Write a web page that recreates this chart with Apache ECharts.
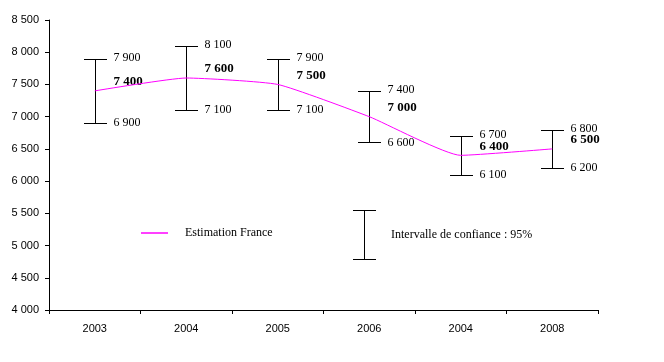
<!DOCTYPE html>
<html><head><meta charset="utf-8">
<script src="https://cdn.jsdelivr.net/npm/echarts@6/dist/echarts.min.js"></script>
<style>html,body{margin:0;padding:0;background:#fff}#c{width:664px;height:362px}</style>
</head><body><div id="c"></div>
<script>
const categories = ['2003', '2004', '2005', '2006', '2004', '2008'];
const estimation = [7400, 7600, 7500, 7000, 6400, 6500];
const upperBound = [7900, 8100, 7900, 7400, 6700, 6800];
const lowerBound = [6900, 7100, 7100, 6600, 6100, 6200];
const yMin = 4000, yMax = 8500, yStep = 500;

function fmt(v) { return String(v).replace(/\B(?=(\d{3})+(?!\d))/g, ' '); }
const serif = '"Liberation Serif","Times New Roman",serif';
const sans = '"Liberation Sans",Arial,sans-serif';
const chart = echarts.init(document.getElementById('c'));
chart.setOption({
  animation: false,
  grid: { left: 49, right: 66, top: 20, bottom: 52 },
  xAxis: {
    type: 'category', data: categories, boundaryGap: true,
    axisLine: { lineStyle: { color: '#000', width: 1 } },
    axisTick: { show: true, length: 4, lineStyle: { color: '#000' } },
    axisLabel: { color: '#000', fontFamily: sans, fontSize: 11, margin: 13 }
  },
  yAxis: {
    type: 'value', min: yMin, max: yMax, interval: yStep,
    axisLine: { show: true, lineStyle: { color: '#000' } },
    axisTick: { show: true, length: 4, lineStyle: { color: '#000' } },
    splitLine: { show: false },
    axisLabel: { color: '#000', fontFamily: sans, fontSize: 11, margin: 10, formatter: fmt }
  },
  legend: [
    { data: ['Estimation France'], left: 141, top: 227, padding: 0, selectedMode: false,
      icon: 'rect', itemWidth: 27, itemHeight: 1.5,
      textStyle: { color: '#000', fontFamily: serif, fontSize: 12, padding: [0, 0, 6, 12] } },
    { data: ['Intervalle de confiance : 95%'], left: 353, top: 210, padding: 0, selectedMode: false,
      icon: 'path://M0,0H23V1H12V49H23V50H0V49H11V1H0Z', itemWidth: 23, itemHeight: 50,
      textStyle: { color: '#000', fontFamily: serif, fontSize: 12, padding: [0, 0, 2, 10] } }
  ],
  series: [
    { name: 'Estimation France', type: 'line', data: estimation, smooth: 0.15, symbol: 'none',
      lineStyle: { color: '#ff00ff', width: 1 }, itemStyle: { color: '#ff00ff' }, z: 3 },
    { name: 'Intervalle de confiance : 95%', type: 'custom',
      data: categories.map((c, i) => [i, lowerBound[i], upperBound[i], estimation[i]]),
      encode: { x: 0, y: [1, 2] }, itemStyle: { color: '#000' }, z: 2,
      renderItem: function (params, api) {
        const i = api.value(0);
        const lo = api.coord([i, api.value(1)]);
        const hi = api.coord([i, api.value(2)]);
        const mid = api.coord([i, api.value(3)]);
        const x = Math.round(lo[0]) + 0.5;
        const yh = Math.round(hi[1]) + 0.5, yl = Math.round(lo[1]) + 0.5;
        const hw = 11.5;
        const st = { stroke: '#000', lineWidth: 1 };
        const tx = x + 18;
        return { type: 'group', children: [
          { type: 'line', shape: { x1: x, y1: yh, x2: x, y2: yl }, style: st },
          { type: 'line', shape: { x1: x - hw, y1: yh, x2: x + hw, y2: yh }, style: st },
          { type: 'line', shape: { x1: x - hw, y1: yl, x2: x + hw, y2: yl }, style: st },
          { type: 'text', x: tx, y: hi[1] - 1, style: { text: fmt(api.value(2)), fill: '#000', fontFamily: serif, fontSize: 12, align: 'left', verticalAlign: 'middle' } },
          { type: 'text', x: tx, y: mid[1] - 9, style: { text: fmt(api.value(3)), fill: '#000', fontFamily: serif, fontSize: 13, fontWeight: 'bold', align: 'left', verticalAlign: 'middle' } },
          { type: 'text', x: tx, y: lo[1], style: { text: fmt(api.value(1)), fill: '#000', fontFamily: serif, fontSize: 12, align: 'left', verticalAlign: 'middle' } }
        ] };
      }
    }
  ]
});
</script>
</body></html>
